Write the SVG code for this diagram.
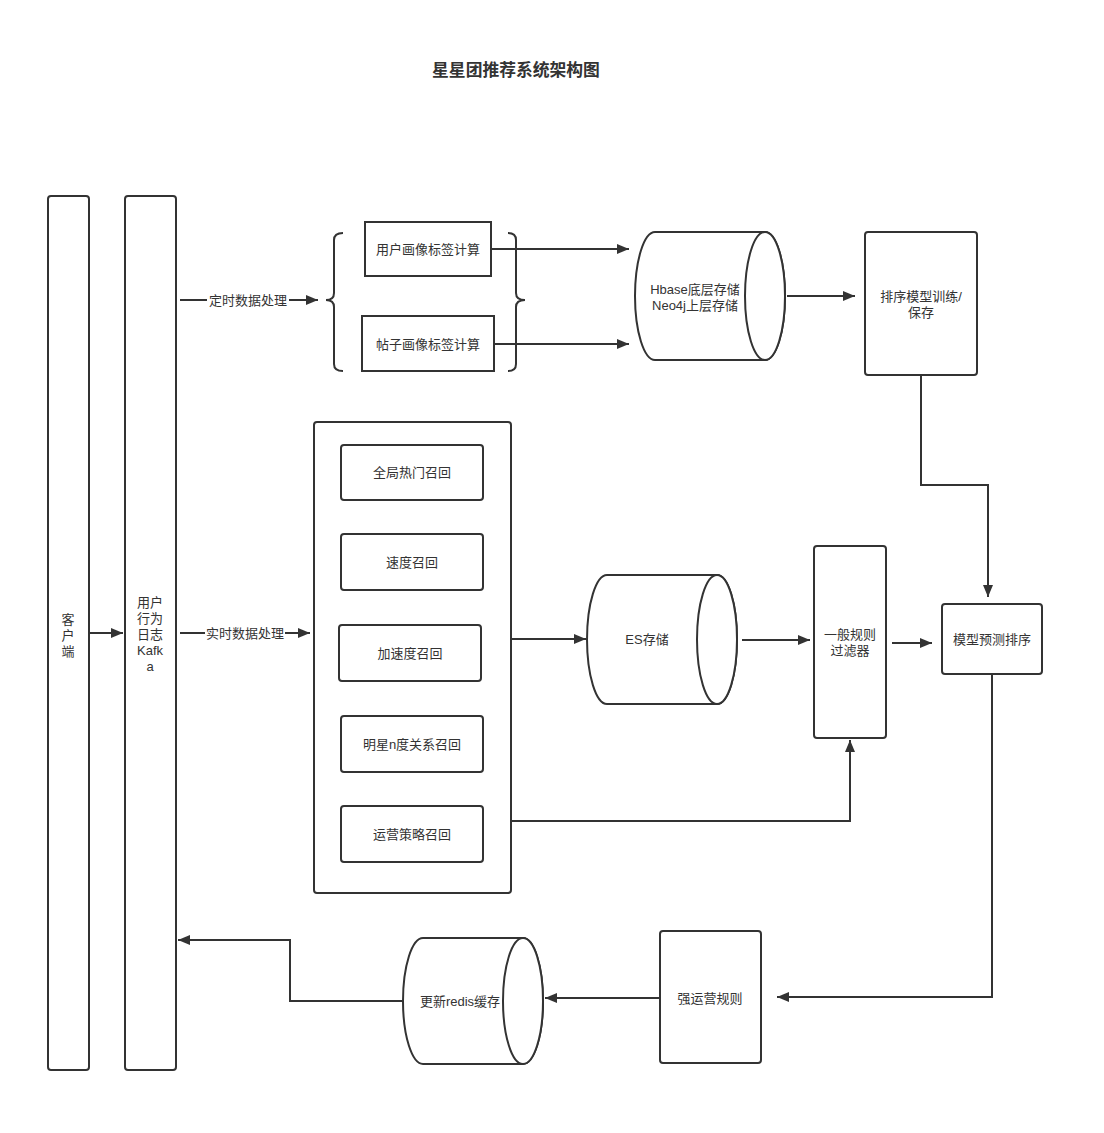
<svg xmlns="http://www.w3.org/2000/svg" width="1104" height="1133" viewBox="0 0 1104 1133">
<defs>
<marker id="ah" viewBox="0 0 12 10" refX="12" refY="5" markerWidth="12" markerHeight="10" markerUnits="userSpaceOnUse" orient="auto">
<path d="M0 0 L12 5 L0 10 Z" fill="#333"/>
</marker>
<style>
.box{fill:#fff;stroke:#333;stroke-width:2}
.ln{fill:none;stroke:#333;stroke-width:2}
.t{font-family:"Liberation Sans","Noto Sans CJK SC",sans-serif;font-size:13px;fill:#333;text-anchor:middle}
.lbl{font-family:"Liberation Sans","Noto Sans CJK SC",sans-serif;font-size:13px;fill:#333;text-anchor:middle}
</style>
</defs>
<rect width="1104" height="1133" fill="#fff"/>
<text x="516" y="76" style="font-family:'Noto Sans CJK SC',sans-serif;font-size:16.8px;font-weight:bold;fill:#333;text-anchor:middle">星星团推荐系统架构图</text>

<g id="connectors">
<line class="ln" x1="89" y1="633" x2="123" y2="633" marker-end="url(#ah)"/>
<line class="ln" x1="180" y1="300" x2="318" y2="300" marker-end="url(#ah)"/>
<rect x="207" y="292" width="82" height="16" fill="#fff"/>
<text class="lbl" x="248" y="305">定时数据处理</text>
<line class="ln" x1="180" y1="633" x2="310" y2="633" marker-end="url(#ah)"/>
<rect x="205" y="625" width="80" height="16" fill="#fff"/>
<text class="lbl" x="245" y="638">实时数据处理</text>
<path class="ln" d="M343 233 Q334 233 334 240 L334 293 Q334 300 326 300 Q334 300 334 307 L334 364 Q334 371 343 371"/>
<path class="ln" d="M508 233 Q516 233 516 240 L516 293 Q516 300 525 300 Q516 300 516 307 L516 364 Q516 371 508 371"/>
<line class="ln" x1="491" y1="249" x2="629" y2="249" marker-end="url(#ah)"/>
<line class="ln" x1="494" y1="344" x2="629" y2="344" marker-end="url(#ah)"/>
<line class="ln" x1="787" y1="296" x2="855" y2="296" marker-end="url(#ah)"/>
<path class="ln" d="M921 375 L921 485 L988 485 L988 597" marker-end="url(#ah)"/>
<line class="ln" x1="511" y1="639" x2="586" y2="639" marker-end="url(#ah)"/>
<line class="ln" x1="742" y1="640" x2="810" y2="640" marker-end="url(#ah)"/>
<line class="ln" x1="892" y1="643" x2="932" y2="643" marker-end="url(#ah)"/>
<path class="ln" d="M511 821 L850 821 L850 740" marker-end="url(#ah)"/>
<path class="ln" d="M992 674 L992 997 L777 997" marker-end="url(#ah)"/>
<line class="ln" x1="660" y1="998" x2="545" y2="998" marker-end="url(#ah)"/>
<path class="ln" d="M403 1001 L290 1001 L290 940 L178 940" marker-end="url(#ah)"/>
</g>

<g id="client"><rect class="box" x="48" y="196" width="41" height="874" rx="3"/>
<text class="t" x="68" y="624">客</text><text class="t" x="68" y="640">户</text><text class="t" x="68" y="656">端</text></g>
<g id="kafka"><rect class="box" x="125" y="196" width="51" height="874" rx="3"/>
<text class="t" x="150" y="607">用户</text><text class="t" x="150" y="623">行为</text><text class="t" x="150" y="639">日志</text><text class="t" x="150" y="655">Kafk</text><text class="t" x="150" y="671">a</text></g>

<g id="user-tag"><rect class="box" x="365" y="222" width="126" height="54"/><text class="t" x="428" y="254">用户画像标签计算</text></g>
<g id="post-tag"><rect class="box" x="362" y="316" width="132" height="55"/><text class="t" x="428" y="349">帖子画像标签计算</text></g>

<g id="hbase">
<path class="box" d="M655 232 L765 232 A20 64 0 0 1 765 360 L655 360 A20 64 0 0 1 655 232 Z"/>
<ellipse class="box" cx="765" cy="296" rx="20" ry="64"/>
<text class="t" x="695" y="294">Hbase底层存储</text><text class="t" x="695" y="310">Neo4j上层存储</text></g>

<g id="train"><rect class="box" x="865" y="232" width="112" height="143" rx="3"/>
<text class="t" x="921" y="301">排序模型训练/</text><text class="t" x="921" y="317">保存</text></g>

<g id="recall-group"><rect class="box" x="314" y="422" width="197" height="471" rx="3"/></g>
<g id="recall-hot"><rect class="box" x="341" y="445" width="142" height="55" rx="3"/><text class="t" x="412" y="477">全局热门召回</text></g>
<g id="recall-speed"><rect class="box" x="341" y="534" width="142" height="56" rx="3"/><text class="t" x="412" y="567">速度召回</text></g>
<g id="recall-acc"><rect class="box" x="339" y="625" width="142" height="56" rx="3"/><text class="t" x="410" y="658">加速度召回</text></g>
<g id="recall-star"><rect class="box" x="341" y="716" width="142" height="56" rx="3"/><text class="t" x="412" y="749">明星n度关系召回</text></g>
<g id="recall-ops"><rect class="box" x="341" y="806" width="142" height="56" rx="3"/><text class="t" x="412" y="839">运营策略召回</text></g>

<g id="es">
<path class="box" d="M607 575 L717 575 A20 64.5 0 0 1 717 704 L607 704 A20 64.5 0 0 1 607 575 Z"/>
<ellipse class="box" cx="717" cy="639.5" rx="20" ry="64.5"/>
<text class="t" x="647" y="644">ES存储</text></g>

<g id="filter"><rect class="box" x="814" y="546" width="72" height="192" rx="3"/>
<text class="t" x="850" y="639">一般规则</text><text class="t" x="850" y="655">过滤器</text></g>

<g id="predict"><rect class="box" x="942" y="604" width="100" height="70" rx="3"/><text class="t" x="992" y="644">模型预测排序</text></g>

<g id="strong-rule"><rect class="box" x="660" y="931" width="101" height="132" rx="3"/><text class="t" x="710" y="1003">强运营规则</text></g>

<g id="redis">
<path class="box" d="M423 938 L523 938 A20 63 0 0 1 523 1064 L423 1064 A20 63 0 0 1 423 938 Z"/>
<ellipse class="box" cx="523" cy="1001" rx="20" ry="63"/>
<text class="t" x="460" y="1006">更新redis缓存</text></g>
</svg>
